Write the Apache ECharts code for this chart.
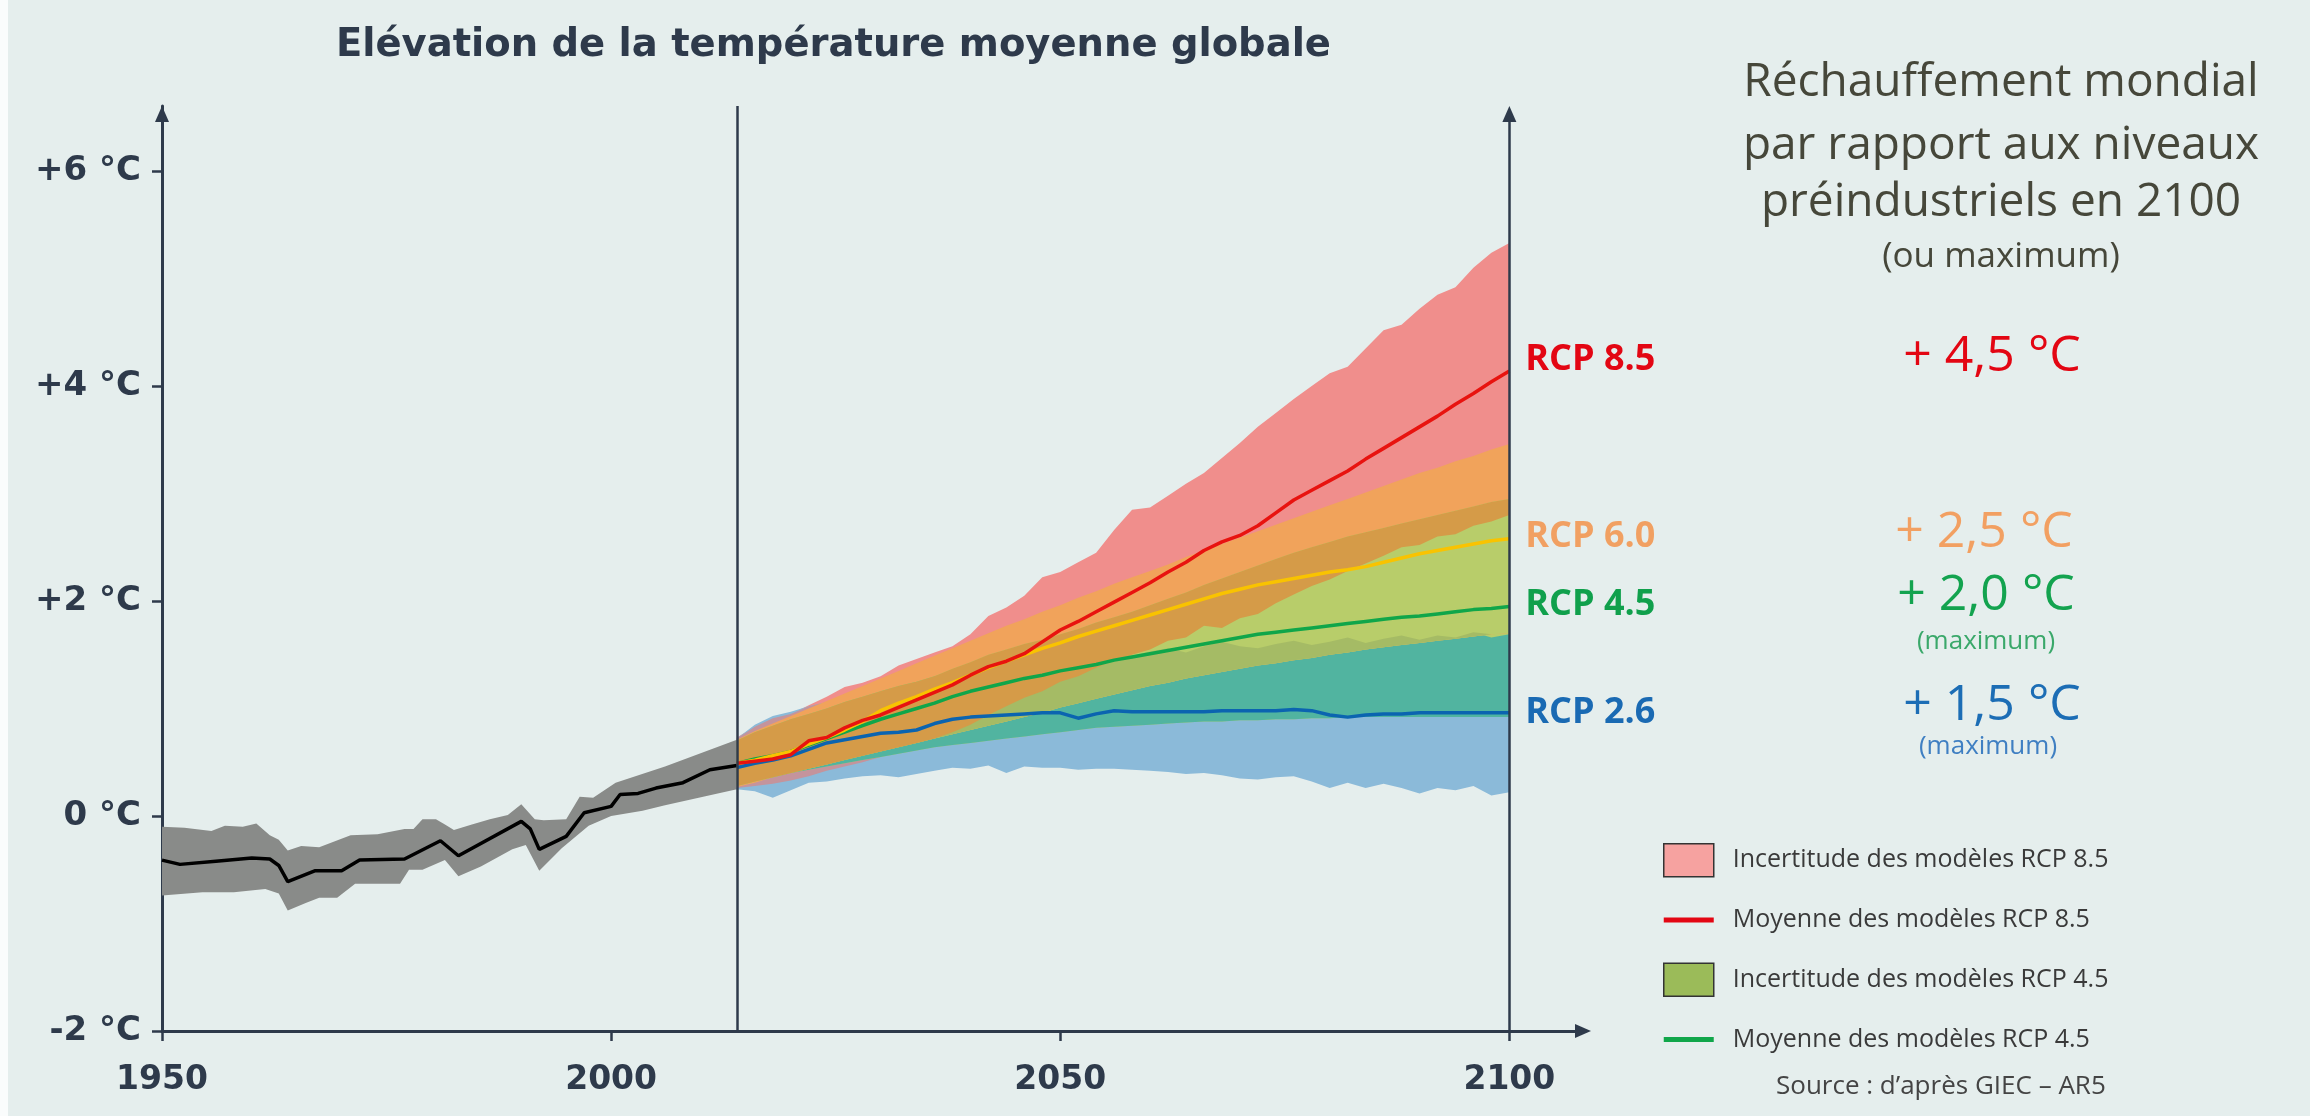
<!DOCTYPE html>
<html>
<head>
<meta charset="utf-8">
<title>Elévation de la température moyenne globale</title>
<script src="https://cdn.jsdelivr.net/npm/echarts@6/dist/echarts.min.js"></script>
<style>
	html, body { margin: 0; padding: 0; background: #e5eeed; }
	#chart { width: 2310px; height: 1116px; }
</style>
</head>
<body>
<div id="chart"></div>
<script>
	// ---------- observed 1950-2014 ----------
	const histYears = [1950, 1952, 1956, 1960, 1962, 1963, 1964, 1967, 1970, 1972, 1977, 1981, 1983,
		1990, 1991, 1992, 1995, 1997, 2000, 2001, 2003, 2005, 2008, 2011, 2014];
	const histMean = [-0.41, -0.45, -0.42, -0.39, -0.40, -0.46, -0.61, -0.51, -0.51, -0.41, -0.40, -0.23, -0.37,
		-0.05, -0.12, -0.31, -0.19, 0.03, 0.09, 0.20, 0.21, 0.26, 0.31, 0.43, 0.47];

	const histUpperYears = [1950, 1952.5, 1955.5, 1957, 1959, 1960.5, 1962, 1963, 1964, 1965.5, 1967.5, 1971, 1974,
		1977, 1978, 1979, 1980.5, 1981.5, 1982.5, 1984.5, 1986.5, 1988.5, 1990, 1991.5, 1992.5, 1995, 1996.5,
		1998, 2000.5, 2006, 2014];
	const histUpper = [-0.10, -0.11, -0.14, -0.09, -0.10, -0.07, -0.18, -0.22, -0.32, -0.28, -0.29, -0.18, -0.17,
		-0.12, -0.12, -0.03, -0.03, -0.08, -0.13, -0.08, -0.03, 0.01, 0.11, -0.03, -0.04, -0.03, 0.18,
		0.17, 0.31, 0.46, 0.71];
	const histLowerYears = [1950, 1954.5, 1958, 1961.5, 1963, 1964, 1966, 1967.5, 1969.5, 1971.5, 1976.5, 1977.5,
		1979, 1981.5, 1983, 1985.5, 1989, 1990.5, 1992, 1994.5, 1997.5, 2000, 2003.5, 2006, 2014];
	const histLower = [-0.74, -0.71, -0.71, -0.68, -0.72, -0.88, -0.81, -0.76, -0.76, -0.63, -0.63, -0.50,
		-0.50, -0.41, -0.56, -0.47, -0.31, -0.27, -0.51, -0.30, -0.09, 0.00, 0.05, 0.10, 0.25];

	// ---------- projections 2014-2100 (every 2 years) ----------
	const projYears = [
		2014, 2016, 2018, 2020, 2022,
		2024, 2026, 2028, 2030, 2032,
		2034, 2036, 2038, 2040, 2042,
		2044, 2046, 2048, 2050, 2052,
		2054, 2056, 2058, 2060, 2062,
		2064, 2066, 2068, 2070, 2072,
		2074, 2076, 2078, 2080, 2082,
		2084, 2086, 2088, 2090, 2092,
		2094, 2096, 2098, 2100];

	// RCP 8.5 : model spread (jagged edges)
	const rcp85Mean = [
		0.49, 0.51, 0.53, 0.57, 0.70,
		0.73, 0.82, 0.89, 0.94, 1.01,
		1.08, 1.15, 1.22, 1.31, 1.39,
		1.44, 1.51, 1.62, 1.73, 1.81,
		1.90, 1.99, 2.08, 2.17, 2.27,
		2.36, 2.47, 2.55, 2.61, 2.70,
		2.82, 2.94, 3.03, 3.12, 3.21,
		3.32, 3.42, 3.52, 3.62, 3.72,
		3.83, 3.93, 4.04, 4.14];
	const rcp85High = [
		0.73, 0.83, 0.91, 0.95, 1.03,
		1.11, 1.20, 1.24, 1.30, 1.40,
		1.46, 1.52, 1.58, 1.69, 1.86,
		1.94, 2.05, 2.22, 2.27, 2.36,
		2.45, 2.66, 2.85, 2.87, 2.98,
		3.09, 3.19, 3.33, 3.47, 3.62,
		3.75, 3.88, 4.00, 4.12, 4.18,
		4.35, 4.52, 4.57, 4.72, 4.85,
		4.92, 5.10, 5.24, 5.33];
	const rcp85Low = [
		0.26, 0.28, 0.30, 0.33, 0.37,
		0.42, 0.46, 0.50, 0.55, 0.60,
		0.65, 0.71, 0.78, 0.85, 0.94,
		1.02, 1.10, 1.16, 1.25, 1.30,
		1.38, 1.45, 1.50, 1.55, 1.63,
		1.66, 1.77, 1.75, 1.84, 1.88,
		1.98, 2.06, 2.14, 2.20, 2.28,
		2.35, 2.42, 2.50, 2.52, 2.60,
		2.62, 2.70, 2.74, 2.80];

	// RCP 6.0 : smooth band
	const rcp60Mean = [
		0.49, 0.52, 0.56, 0.60, 0.67,
		0.73, 0.80, 0.88, 0.98, 1.05,
		1.11, 1.18, 1.24, 1.31, 1.38,
		1.44, 1.50, 1.56, 1.61, 1.67,
		1.72, 1.77, 1.82, 1.87, 1.92,
		1.97, 2.02, 2.07, 2.11, 2.15,
		2.18, 2.21, 2.24, 2.27, 2.29,
		2.32, 2.36, 2.40, 2.44, 2.47,
		2.50, 2.53, 2.56, 2.58];
	const rcp60High = [
		0.71, 0.79, 0.86, 0.93, 1.00,
		1.07, 1.14, 1.21, 1.28, 1.35,
		1.42, 1.49, 1.56, 1.63, 1.70,
		1.77, 1.83, 1.90, 1.96, 2.03,
		2.09, 2.16, 2.22, 2.28, 2.34,
		2.41, 2.47, 2.53, 2.59, 2.65,
		2.71, 2.77, 2.83, 2.89, 2.95,
		3.01, 3.07, 3.13, 3.19, 3.24,
		3.30, 3.35, 3.41, 3.46];
	const rcp60Low = [
		0.27, 0.31, 0.36, 0.40, 0.44,
		0.48, 0.52, 0.56, 0.60, 0.64,
		0.68, 0.72, 0.76, 0.80, 0.84,
		0.88, 0.92, 0.96, 1.01, 1.05,
		1.09, 1.13, 1.17, 1.21, 1.24,
		1.28, 1.31, 1.34, 1.37, 1.40,
		1.42, 1.45, 1.47, 1.50, 1.52,
		1.55, 1.57, 1.59, 1.61, 1.63,
		1.65, 1.67, 1.69, 1.70];

	// RCP 4.5 : smooth band
	const rcp45Mean = [
		0.49, 0.53, 0.56, 0.60, 0.66,
		0.72, 0.78, 0.84, 0.90, 0.95,
		1.00, 1.05, 1.11, 1.16, 1.20,
		1.24, 1.28, 1.31, 1.35, 1.38,
		1.41, 1.45, 1.48, 1.51, 1.54,
		1.57, 1.60, 1.63, 1.66, 1.69,
		1.71, 1.73, 1.75, 1.77, 1.79,
		1.81, 1.83, 1.85, 1.86, 1.88,
		1.90, 1.92, 1.93, 1.95];
	const rcp45High = [
		0.70, 0.78, 0.84, 0.90, 0.95,
		1.00, 1.06, 1.11, 1.16, 1.21,
		1.25, 1.30, 1.37, 1.43, 1.50,
		1.55, 1.60, 1.64, 1.69, 1.74,
		1.80, 1.85, 1.90, 1.96, 2.02,
		2.08, 2.15, 2.21, 2.27, 2.33,
		2.39, 2.45, 2.50, 2.55, 2.60,
		2.64, 2.68, 2.72, 2.76, 2.80,
		2.84, 2.88, 2.92, 2.95];
	const rcp45Low = [
		0.28, 0.32, 0.36, 0.40, 0.43,
		0.46, 0.49, 0.52, 0.55, 0.58,
		0.61, 0.64, 0.66, 0.68, 0.70,
		0.72, 0.74, 0.76, 0.78, 0.80,
		0.82, 0.83, 0.84, 0.85, 0.86,
		0.87, 0.88, 0.88, 0.89, 0.89,
		0.90, 0.90, 0.91, 0.91, 0.92,
		0.92, 0.92, 0.92, 0.92, 0.92,
		0.92, 0.92, 0.92, 0.92];

	// RCP 2.6 : model spread (jagged edges)
	const rcp26Mean = [
		0.45, 0.49, 0.52, 0.56, 0.62,
		0.68, 0.71, 0.74, 0.77, 0.78,
		0.80, 0.86, 0.90, 0.92, 0.93,
		0.94, 0.95, 0.96, 0.96, 0.91,
		0.95, 0.98, 0.97, 0.97, 0.97,
		0.97, 0.97, 0.98, 0.98, 0.98,
		0.98, 0.99, 0.98, 0.94, 0.92,
		0.94, 0.95, 0.95, 0.96, 0.96,
		0.96, 0.96, 0.96, 0.96];
	const rcp26High = [
		0.72, 0.85, 0.93, 0.97, 1.02,
		1.06, 1.10, 1.14, 1.18, 1.22,
		1.27, 1.31, 1.35, 1.40, 1.43,
		1.46, 1.49, 1.52, 1.50, 1.54,
		1.55, 1.52, 1.49, 1.53, 1.56,
		1.52, 1.58, 1.62, 1.58, 1.56,
		1.60, 1.63, 1.59, 1.62, 1.66,
		1.61, 1.65, 1.68, 1.64, 1.68,
		1.66, 1.71, 1.66, 1.69];
	const rcp26Low = [
		0.25, 0.23, 0.17, 0.24, 0.31,
		0.32, 0.35, 0.37, 0.38, 0.36,
		0.39, 0.42, 0.45, 0.44, 0.47,
		0.40, 0.46, 0.45, 0.45, 0.43,
		0.44, 0.44, 0.43, 0.42, 0.41,
		0.39, 0.40, 0.38, 0.35, 0.34,
		0.36, 0.37, 0.32, 0.26, 0.31,
		0.26, 0.30, 0.26, 0.21, 0.26,
		0.24, 0.28, 0.19, 0.22];

	const yTicks = [-2, 0, 2, 4, 6];
	const xTicks = [1950, 2000, 2050, 2100];

	const ink = '#2e3a4b';
	const boldFont = 'DejaVu Sans';
	const lightFont = 'Open Sans';

	// polygon ring: upper edge forward, lower edge backward
	function ring(upX, upY, loX, loY) {
		const out = upX.map((x, i) => [x, upY[i]]);
		for (let i = loX.length - 1; i >= 0; i--) out.push([loX[i], loY[i]]);
		return out;
	}
	// common part of several bands sampled on projYears, as a ring
	function common(bands) {
		const lo = projYears.map((y, i) => Math.max.apply(null, bands.map(b => b[0][i])));
		const hi = projYears.map((y, i) => Math.max(lo[i], Math.min.apply(null, bands.map(b => b[1][i]))));
		return ring(projYears, hi, projYears, lo);
	}
	const P = [rcp85Low, rcp85High];
	const O = [rcp60Low, rcp60High];
	const G = [rcp45Low, rcp45High];
	const B = [rcp26Low, rcp26High];

	function band(name, data, color, order) {
		return {
			name: name,
			type: 'custom',
			z: 2,
			silent: true,
			itemStyle: { color: color },
			data: data,
			renderItem: function (params, api) {
				if (params.dataIndexInside !== 0) return null;
				const pts = [];
				for (let i = 0; i < params.dataInsideLength; i++) {
					pts.push(api.coord([api.value(0, i), api.value(1, i)]));
				}
				return { type: 'polygon', z2: order, shape: { points: pts }, style: { fill: color } };
			}
		};
	}

	function meanLine(name, values, color, label, labelColor, dy) {
		return {
			name: name,
			type: 'line',
			z: 3,
			silent: true,
			showSymbol: false,
			data: projYears.map((y, i) => [y, values[i]]),
			lineStyle: { color: color, width: 3.5 },
			itemStyle: { color: color },
			endLabel: {
				show: true,
				formatter: label,
				color: labelColor,
				fontFamily: lightFont,
				fontWeight: 'bold',
				fontSize: 36,
				distance: 16,
				offset: [0, dy]
			}
		};
	}

	const myChart = echarts.init(document.getElementById('chart'));
	const option = {
		animation: false,
		backgroundColor: '#e5eeed',
		title: {
			text: 'Elévation de la température moyenne globale',
			left: 331,
			top: 21,
			textStyle: { fontFamily: boldFont, fontWeight: 'bold', fontSize: 38.5, color: ink }
		},
		grid: { left: 162, right: 727, top: 106, bottom: 85 },
		xAxis: {
			type: 'value',
			min: 1950,
			max: 2108.2,
			axisLine: {
				onZero: false,
				lineStyle: { color: ink, width: 3 },
				symbol: ['none', 'triangle'],
				symbolSize: [14, 16]
			},
			axisTick: { show: true, customValues: xTicks, length: 10, lineStyle: { color: ink, width: 2.5 } },
			axisLabel: {
				customValues: xTicks,
				formatter: v => String(v),
				margin: 33,
				color: ink,
				fontFamily: boldFont,
				fontWeight: 'bold',
				fontSize: 33
			},
			splitLine: { show: false }
		},
		yAxis: {
			type: 'value',
			min: -2,
			max: 6.605,
			axisLine: {
				show: true,
				onZero: false,
				lineStyle: { color: ink, width: 3 },
				symbol: ['none', 'triangle'],
				symbolSize: [14, 16],
				symbolOffset: [0, -8]
			},
			axisTick: { show: true, customValues: yTicks, length: 10, lineStyle: { color: ink, width: 2.5 } },
			axisLabel: {
				customValues: yTicks,
				formatter: v => (v > 0 ? '+' : '') + v + ' °C',
				margin: 21,
				color: ink,
				fontFamily: boldFont,
				fontWeight: 'bold',
				fontSize: 34
			},
			splitLine: { show: false }
		},
		legend: {
			orient: 'vertical',
			left: 1663,
			top: 843,
			padding: 0,
			itemWidth: 50,
			itemHeight: 33,
			itemGap: 26,
			selectedMode: false,
			textStyle: { fontFamily: lightFont, fontSize: 25, color: '#3a3a3a', padding: [0, 0, 0, 14] },
			data: [
				{ name: 'Incertitude des modèles RCP 8.5', icon: 'rect', itemStyle: { color: '#f6a2a0', borderColor: '#333', borderWidth: 1.5 } },
				{ name: 'Moyenne des modèles RCP 8.5', icon: 'path://M0,0M50,33M0,14L50,14L50,19L0,19Z', itemStyle: { color: '#e30613' } },
				{ name: 'Incertitude des modèles RCP 4.5', icon: 'rect', itemStyle: { color: '#9bbb59', borderColor: '#333', borderWidth: 1.5 } },
				{ name: 'Moyenne des modèles RCP 4.5', icon: 'path://M0,0M50,33M0,14L50,14L50,19L0,19Z', itemStyle: { color: '#10a64a' } }
			]
		},
		graphic: [
			{ type: 'rect', shape: { x: 0, y: 0, width: 8, height: 1116 }, style: { fill: '#fafcfc' }, silent: true },
			{ type: 'text', x: 2001, y: 83, style: { text: 'Réchauffement mondial', fill: '#46473a', fontFamily: lightFont, fontSize: 46, align: 'center', verticalAlign: 'middle' } },
			{ type: 'text', x: 2001, y: 146, style: { text: 'par rapport aux niveaux', fill: '#46473a', fontFamily: lightFont, fontSize: 46, align: 'center', verticalAlign: 'middle' } },
			{ type: 'text', x: 2001, y: 203, style: { text: 'préindustriels en 2100', fill: '#46473a', fontFamily: lightFont, fontSize: 46, align: 'center', verticalAlign: 'middle' } },
			{ type: 'text', x: 2001, y: 257, style: { text: '(ou maximum)', fill: '#46473a', fontFamily: lightFont, fontSize: 35, align: 'center', verticalAlign: 'middle' } },
			{ type: 'text', x: 1992, y: 357, style: { text: '+ 4,5 °C', fill: '#e30613', fontFamily: lightFont, fontSize: 50, align: 'center', verticalAlign: 'middle' } },
			{ type: 'text', x: 1984, y: 533, style: { text: '+ 2,5 °C', fill: '#f2a062', fontFamily: lightFont, fontSize: 50, align: 'center', verticalAlign: 'middle' } },
			{ type: 'text', x: 1986, y: 596, style: { text: '+ 2,0 °C', fill: '#13a34f', fontFamily: lightFont, fontSize: 50, align: 'center', verticalAlign: 'middle' } },
			{ type: 'text', x: 1986, y: 642, style: { text: '(maximum)', fill: '#3aa86a', fontFamily: lightFont, fontSize: 26, align: 'center', verticalAlign: 'middle' } },
			{ type: 'text', x: 1992, y: 706, style: { text: '+ 1,5 °C', fill: '#1c6db5', fontFamily: lightFont, fontSize: 50, align: 'center', verticalAlign: 'middle' } },
			{ type: 'text', x: 1988, y: 747, style: { text: '(maximum)', fill: '#3f7fc2', fontFamily: lightFont, fontSize: 26, align: 'center', verticalAlign: 'middle' } },
			{ type: 'text', x: 1776, y: 1087, style: { text: 'Source : d’après GIEC – AR5', fill: '#444', fontFamily: lightFont, fontSize: 26, align: 'left', verticalAlign: 'middle' } }
		],
		series: [
			band('Historique', ring(histUpperYears, histUpper, histLowerYears, histLower), '#898b89', 1),
			// painted back to front; overlaps get their own tint
			band('Incertitude des modèles RCP 8.5', ring(projYears, rcp85High, projYears, rcp85Low), '#f08e8c', 2),
			band('Incertitude des modèles RCP 2.6', ring(projYears, rcp26High, projYears, rcp26Low), '#8bbad9', 3),
			band('RCP 8.5 ∩ 2.6', common([P, B]), '#c4949c', 4),
			band('Incertitude des modèles RCP 4.5', ring(projYears, rcp45High, projYears, rcp45Low), '#b8cd6a', 5),
			band('RCP 4.5 ∩ 2.6', common([G, B]), '#51b4a0', 6),
			band('Incertitude des modèles RCP 6.0', ring(projYears, rcp60High, projYears, rcp60Low), '#f1a35b', 7),
			band('RCP 6.0 ∩ 4.5', common([O, G]), '#b8cd6a', 8),
			band('RCP 6.0 ∩ 4.5 ∩ 2.6', common([O, G, B]), '#a5bb65', 9),
			band('RCP 8.5 ∩ 6.0 ∩ 4.5', common([P, O, G]), '#d59b48', 10),
			{
				name: 'Observations',
				type: 'line',
				z: 3,
				silent: true,
				showSymbol: false,
				data: histYears.map((y, i) => [y, histMean[i]]),
				lineStyle: { color: '#000', width: 3.5 },
				itemStyle: { color: '#000' },
				markLine: {
					silent: true,
					symbol: ['none', 'none'],
					label: { show: false },
					lineStyle: { color: ink, width: 2.5, type: 'solid' },
					data: [
						[{ coord: [2014, -2] }, { coord: [2014, 6.605] }],
						[{ coord: [2100, -2] }, { coord: [2100, 6.53], symbol: 'triangle', symbolSize: [14, 16] }]
					]
				}
			},
			meanLine('Moyenne des modèles RCP 2.6', rcp26Mean, '#0b64b0', 'RCP 2.6', '#1a6ab3', 0),
			meanLine('Moyenne des modèles RCP 4.5', rcp45Mean, '#10a64a', 'RCP 4.5', '#10a04c', -2),
			meanLine('Moyenne des modèles RCP 6.0', rcp60Mean, '#f9c300', 'RCP 6.0', '#f1a062', -2),
			meanLine('Moyenne des modèles RCP 8.5', rcp85Mean, '#e8130f', 'RCP 8.5', '#e30613', -11)
		]
	};
	myChart.setOption(option);
</script>
</body>
</html>
